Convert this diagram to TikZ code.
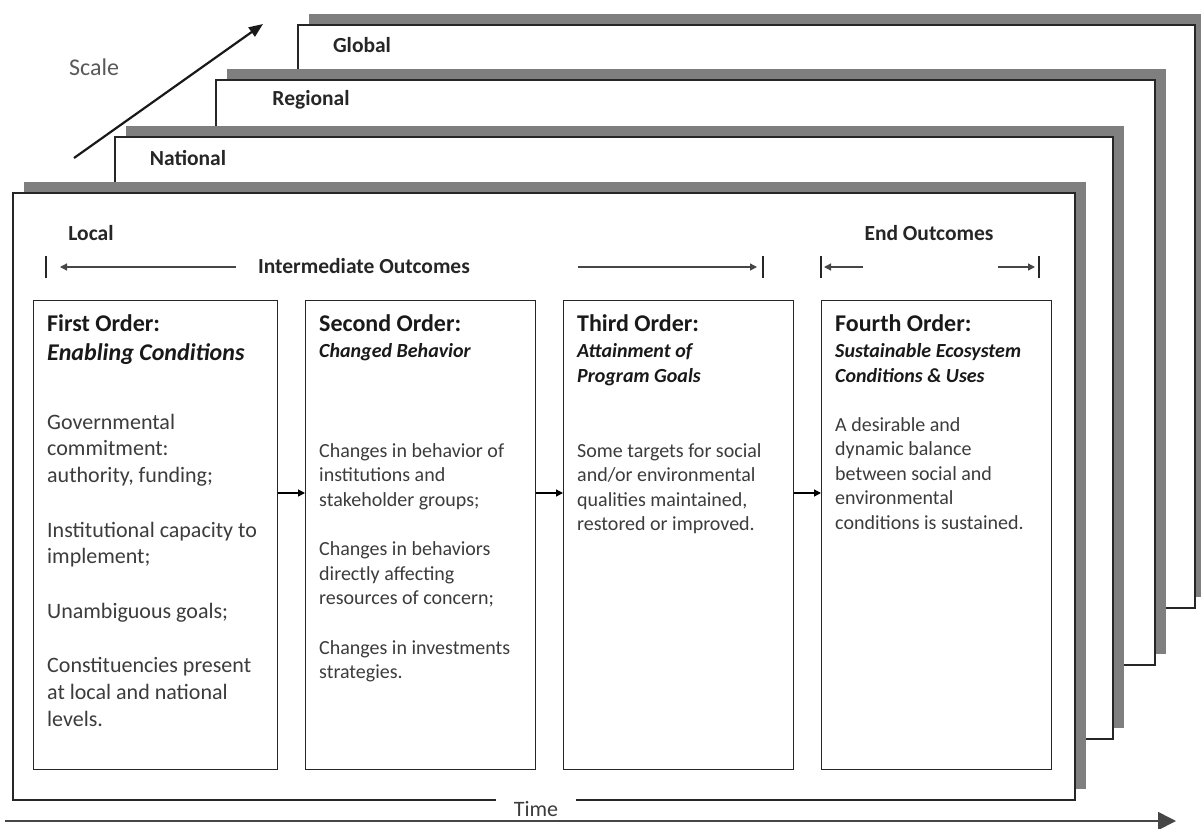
\documentclass[tikz,border=0pt]{standalone}
\usepackage{fontspec}
\setmainfont{Carlito}
\usetikzlibrary{arrows.meta,calc}
\definecolor{shadowgray}{RGB}{127,127,127}
\definecolor{txtgray}{RGB}{60,60,60}
\definecolor{linegray}{RGB}{70,70,70}
\tikzset{
  shadowrect/.style={fill=shadowgray,draw=none},
  framerect/.style={fill=white,draw=black!85,line width=1.4pt},
  orderbox/.style={draw=black!85,line width=1.4pt,fill=white,anchor=north west,inner sep=0pt},
  levellabel/.style={font={\fontsize{21.5}{26}\selectfont\bfseries},text=black!85,inner sep=0pt},
  headtxt/.style={anchor=north west,inner sep=0pt,align=left,text=black!90,font={\fontsize{24}{29}\selectfont\bfseries}},
  subtxt/.style={anchor=north west,inner sep=0pt,align=left,text=black!90,font={\fontsize{20}{25}\selectfont\bfseries\itshape}},
  bodyA/.style={anchor=north west,inner sep=0pt,align=left,text=txtgray,font={\fontsize{22}{26.6}\selectfont}},
  bodyB/.style={anchor=north west,inner sep=0pt,align=left,text=txtgray,font={\fontsize{20}{24.5}\selectfont}},
  flowarrow/.style={-{Triangle[length=7pt,width=7pt]},line width=1.3pt,black},
  brackline/.style={-{Triangle[length=7pt,width=7pt]},line width=1.3pt,linegray},
  brackbar/.style={line width=2.6pt,black!85},
}
\begin{document}
\begin{tikzpicture}[x=1pt,y=-1pt]
\useasboundingbox (0,0) rectangle (1201,828);
% stacked frames (back to front)
\fill[shadowrect] (309,14) rectangle (1201,597);
\draw[framerect] (298,25) rectangle (1195,608);
\fill[shadowrect] (227,69) rectangle (1166,654);
\draw[framerect] (216,80) rectangle (1155,665);
\fill[shadowrect] (126,126) rectangle (1124,728);
\draw[framerect] (115,137) rectangle (1113,739);
\fill[shadowrect] (24,182) rectangle (1086,789);
\draw[framerect] (13,193) rectangle (1075,800);

% scale arrow and labels
\coordinate (sc0) at (74,158);
\coordinate (sc1) at (263,24);
\draw[-{Triangle[length=14pt,width=11pt]},line width=2.2pt,black!90] (sc0) -- (sc1);
\node[font={\fontsize{24}{29}\selectfont},text=black!65,inner sep=0pt] (scale) at (94,67) {Scale};
\node[levellabel] (global) at (362,45) {Global};
\node[levellabel] (regional) at (311,100) {Regional};
\node[levellabel] (national) at (188,158) {National};
\node[levellabel] (local) at (91,233) {Local};
\node[levellabel] (inter) at (364,266) {Intermediate Outcomes};
\node[levellabel] (endout) at (929,233) {End Outcomes};

% bracket arrows
\coordinate (l0) at (236,267); \coordinate (l1) at (60,267);
\coordinate (r0) at (578,267); \coordinate (r1) at (757,267);
\coordinate (e0) at (863,267); \coordinate (e1) at (824,267);
\coordinate (f0) at (998,267); \coordinate (f1) at (1035,267);
\draw[brackline] (l0) -- (l1);
\draw[brackline] (r0) -- (r1);
\draw[brackline] (e0) -- (e1);
\draw[brackline] (f0) -- (f1);
\draw[brackbar] (46,256) -- (46,278);
\draw[brackbar] (763,256) -- (763,278);
\draw[brackbar] (821,256) -- (821,278);
\draw[brackbar] (1039,256) -- (1039,278);

% order boxes
\node[orderbox,minimum width=244pt,minimum height=469pt] (b1) at (33,300) {};
\node[orderbox,minimum width=230pt,minimum height=469pt] (b2) at (305,300) {};
\node[orderbox,minimum width=230pt,minimum height=469pt] (b3) at (563,300) {};
\node[orderbox,minimum width=230pt,minimum height=469pt] (b4) at (821,300) {};

\coordinate (ay) at (0,493);
\draw[flowarrow] (b1.east |- ay) -- (b2.west |- ay);
\draw[flowarrow] (b2.east |- ay) -- (b3.west |- ay);
\draw[flowarrow] (b3.east |- ay) -- (b4.west |- ay);

% box 1
\node[headtxt] (h1) at (47,310.7) {\strut First Order:\\\textit{Enabling Conditions}};
\node[bodyA] (t1) at (47,410.4) {\strut Governmental\\commitment:\\authority, funding;\\[28pt]Institutional capacity to\\implement;\\[28pt]Unambiguous goals;\\[28pt]Constituencies present\\at local and national\\levels.};
% box 2
\node[headtxt] (h2) at (319,310.7) {\strut Second Order:};
\node[subtxt] (s2) at (319,339.5) {\strut Changed Behavior};
\node[bodyB] (t2) at (319,439.9) {\strut Changes in behavior of\\institutions and\\stakeholder groups;\\[25pt]Changes in behaviors\\directly affecting\\resources of concern;\\[25pt]Changes in investments\\strategies.};
% box 3
\node[headtxt] (h3) at (577,310.7) {\strut Third Order:};
\node[subtxt] (s3) at (577,339.5) {\strut Attainment of\\Program Goals};
\node[bodyB] (t3) at (577,439.9) {\strut Some targets for social\\and/or environmental\\qualities maintained,\\restored or improved.};
% box 4
\node[headtxt] (h4) at (835,310.7) {\strut Fourth Order:};
\node[subtxt] (s4) at (835,339.5) {\strut Sustainable Ecosystem\\Conditions \& Uses};
\node[bodyB] (t4) at (835,413.9) {\strut A desirable and\\dynamic balance\\between social and\\environmental\\conditions is sustained.};

% time
\node[fill=white,inner sep=0pt,minimum width=80pt,minimum height=26pt,font={\fontsize{22}{26}\selectfont},text=txtgray] (time) at (536,809) {Time};
\coordinate (t0) at (5,821);
\coordinate (t1) at (1176,821);
\draw[-{Triangle[length=18pt,width=18pt]},line width=1.6pt,linegray] (t0) -- (t1);
\end{tikzpicture}
\end{document}
